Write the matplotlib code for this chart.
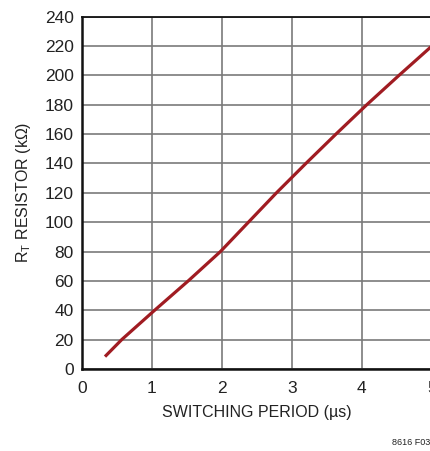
import matplotlib
matplotlib.use("Agg")
import matplotlib.pyplot as plt

# data
period_us = [0.33, 0.57, 1.04, 1.52, 1.98, 2.38, 2.78, 3.20, 3.63, 4.07, 4.53, 5.0]
rt_kohm = [8.4, 20, 40, 60, 80, 100, 120, 140, 160, 180, 200, 220]
x_ticks = [0, 1, 2, 3, 4, 5]
y_ticks = list(range(0, 241, 20))

plt.rcParams['font.family'] = ['Liberation Sans', 'DejaVu Sans']

fig = plt.figure(figsize=(4.31, 4.51), dpi=100)
ax = fig.add_axes([0.190, 0.182, 0.812, 0.781])

ax.plot(period_us, rt_kohm, color='#a01c22', lw=2.3, solid_capstyle='butt',
        solid_joinstyle='round', zorder=3)

ax.set_xlim(0, 5)
ax.set_ylim(0, 240)
ax.set_xticks(x_ticks)
ax.set_yticks(y_ticks)
ax.grid(True, color='#7a7a7a', lw=1.2)
ax.set_axisbelow(True)
ax.tick_params(length=0, labelsize=12.5, colors='#222222')
ax.tick_params(axis='x', pad=9)
ax.tick_params(axis='y', pad=6)

for s in ['left', 'bottom']:
    ax.spines[s].set_linewidth(1.8)
    ax.spines[s].set_color('#111111')
ax.spines['top'].set_linewidth(1.3)
ax.spines['top'].set_color('#111111')
ax.spines['right'].set_visible(False)

ax.set_xlabel('SWITCHING PERIOD (µs)', fontsize=11.5, color='#222222', labelpad=6)
ax.set_ylabel('R$_\\mathregular{T}$ RESISTOR (kΩ)', fontsize=11.5, color='#222222', labelpad=8)

fig.text(0.998, 0.008, '8616 F03', ha='right', va='bottom', fontsize=6.5, color='#222222')

fig.savefig('out.png', dpi=100)
